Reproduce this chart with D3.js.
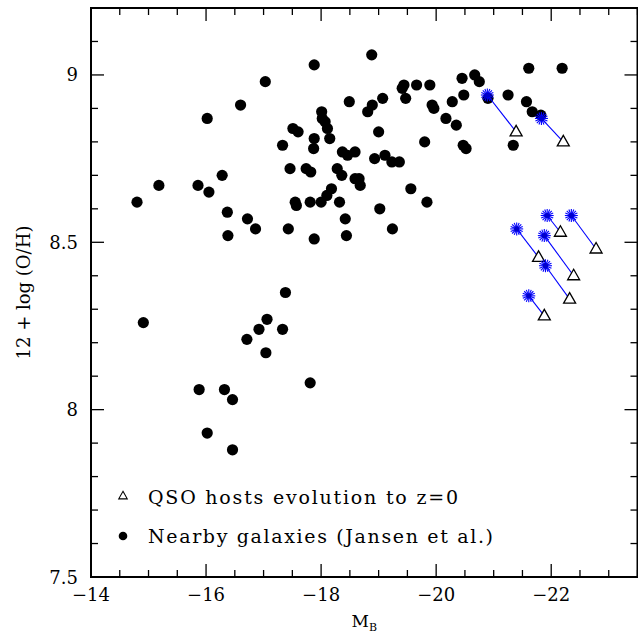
<!DOCTYPE html>
<html>
<head>
<meta charset="utf-8">
<script src="https://cdn.jsdelivr.net/npm/d3@7"></script>
<style>
  html, body { margin: 0; padding: 0; background: #fff; }
  svg { display: block; }
  text { font-family: "DejaVu Serif", "Liberation Serif", serif; fill: #000; }
</style>
</head>
<body>
<svg id="chart" width="638" height="633"></svg>
<script>
// ---- Data ----
// Nearby galaxies (Jansen et al.): absolute B magnitude and 12 + log(O/H)
const galaxyMB = [
  -17.03, -16.60, -16.02, -17.33, -16.28, -15.18, -15.86, -16.05, -14.80, -16.37,
  -16.72, -16.86, -16.38, -18.88, -17.88, -19.44, -19.41, -19.66, -19.89, -19.47,
  -19.07, -18.49, -18.89, -18.81, -19.93, -19.96, -18.01, -18.02, -18.07, -18.11,
  -17.51, -17.60, -19.00, -17.88, -18.15, -19.80, -17.87, -18.37, -18.46, -18.59,
  -18.93, -19.11, -19.23, -19.36, -17.46, -17.74, -17.82, -18.28, -18.36, -18.59,
  -18.66, -18.68, -18.18, -18.10, -19.56, -17.55, -17.57, -17.81, -18.00, -18.32,
  -19.84, -19.02, -18.42, -17.43, -19.24, -17.88, -18.44, -21.61, -22.19, -20.67,
  -20.75, -20.45, -20.48, -20.28, -21.25, -21.57, -21.67, -21.82, -20.90, -20.17,
  -20.35, -20.47, -20.52, -21.34, -17.38, -14.91, -17.06, -16.92, -17.33, -16.71,
  -17.04, -17.81, -15.88, -16.32, -16.46, -16.02, -16.46
];
const galaxyOH = [
  8.98, 8.91, 8.87, 8.79, 8.70, 8.67, 8.67, 8.65, 8.62, 8.59,
  8.57, 8.54, 8.52, 9.06, 9.03, 8.97, 8.96, 8.97, 8.97, 8.93,
  8.93, 8.92, 8.91, 8.89, 8.91, 8.90, 8.89, 8.87, 8.86, 8.84,
  8.84, 8.83, 8.83, 8.81, 8.81, 8.80, 8.78, 8.77, 8.76, 8.77,
  8.75, 8.76, 8.74, 8.74, 8.72, 8.72, 8.71, 8.72, 8.70, 8.69,
  8.69, 8.67, 8.66, 8.64, 8.66, 8.62, 8.61, 8.62, 8.62, 8.62,
  8.62, 8.60, 8.57, 8.54, 8.54, 8.51, 8.52, 9.02, 9.02, 9.00,
  8.98, 8.99, 8.94, 8.92, 8.94, 8.92, 8.89, 8.88, 8.93, 8.87,
  8.85, 8.79, 8.78, 8.79, 8.35, 8.26, 8.27, 8.24, 8.24, 8.21,
  8.17, 8.08, 8.06, 8.06, 8.03, 7.93, 7.88
];
// QSO hosts: observed (blue stars) and evolved to z=0 (open triangles)
const qsoObsMB = [-20.89, -21.83, -21.40, -21.93, -22.35, -21.88, -21.90, -21.61];
const qsoObsOH = [8.94, 8.87, 8.54, 8.58, 8.58, 8.52, 8.43, 8.34];
const qsoZ0MB  = [-21.39, -22.21, -21.78, -22.16, -22.78, -22.39, -22.32, -21.88];
const qsoZ0OH  = [8.83, 8.80, 8.455, 8.53, 8.48, 8.40, 8.33, 8.28];

// Axes / ticks
const xMajorTicks = [-14, -16, -18, -20, -22];
const xTickLabels = ["\u221214", "\u221216", "\u221218", "\u221220", "\u221222"];
const yMajorTicks = [7.5, 8, 8.5, 9];
const yTickLabels = ["7.5", "8", "8.5", "9"];
const xDomain = [-14, -23.5];
const yDomain = [7.5, 9.2];
const legendLabels = ["QSO hosts evolution to z=0", "Nearby galaxies (Jansen et al.)"];

// ---- Layout ----
const L = 91, R = 637.5, T = 8, B = 577;
const svg = d3.select("#chart");
const x = d3.scaleLinear().domain(xDomain).range([L, R]);
const y = d3.scaleLinear().domain(yDomain).range([B, T]);

// minor tick values generated from axis range
const xMinor = d3.range(-14, -23.5 - 1e-9, -0.5).filter(v => Math.abs(v % 2) > 1e-9);
const yMinor = d3.range(7.5, 9.2 + 1e-9, 0.1).map(v => +v.toFixed(2)).filter(v => Math.abs((v * 2) - Math.round(v * 2)) > 1e-6);

const majLen = 13, minLen = 7;
const tickG = svg.append("g").attr("stroke", "#000").attr("stroke-width", 1.3);
// bottom & top
[[xMajorTicks, majLen], [xMinor, minLen]].forEach(([vals, len]) => {
  vals.forEach(v => {
    const px = x(v);
    tickG.append("line").attr("x1", px).attr("x2", px).attr("y1", B).attr("y2", B - len);
    tickG.append("line").attr("x1", px).attr("x2", px).attr("y1", T).attr("y2", T + len);
  });
});
// left & right
[[yMajorTicks, majLen], [yMinor, minLen]].forEach(([vals, len]) => {
  vals.forEach(v => {
    const py = y(v);
    tickG.append("line").attr("y1", py).attr("y2", py).attr("x1", L).attr("x2", L + len);
    tickG.append("line").attr("y1", py).attr("y2", py).attr("x1", R).attr("x2", R - len);
  });
});

// frame
svg.append("rect").attr("x", L).attr("y", T).attr("width", R - L).attr("height", B - T)
  .attr("fill", "none").attr("stroke", "#000").attr("stroke-width", 2);

// tick labels
xMajorTicks.forEach((v, i) => {
  svg.append("text").attr("x", x(v)).attr("y", 601).attr("text-anchor", "middle")
    .attr("font-size", 18).text(xTickLabels[i]);
});
yMajorTicks.forEach((v, i) => {
  svg.append("text").attr("x", 78).attr("y", y(v) + 6.5).attr("text-anchor", "end")
    .attr("font-size", 18).text(yTickLabels[i]);
});

// axis titles
const xt = svg.append("text").attr("x", (L + R) / 2).attr("y", 627).attr("text-anchor", "middle")
  .attr("font-size", 17);
xt.append("tspan").text("M");
xt.append("tspan").attr("font-size", 11).attr("dy", 4).text("B");
svg.append("text").attr("transform", `translate(30,${(T + B) / 2}) rotate(-90)`)
  .attr("text-anchor", "middle").attr("font-size", 18).text("12 + log (O/H)");

// ---- Marks ----
const plot = svg.append("g");
// nearby galaxies
plot.selectAll("circle.gal").data(galaxyMB.map((m, i) => [m, galaxyOH[i]]))
  .join("circle").attr("class", "gal")
  .attr("cx", d => x(d[0])).attr("cy", d => y(d[1])).attr("r", 5.6).attr("fill", "#000");

const qso = qsoObsMB.map((m, i) => ({ m0: m, o0: qsoObsOH[i], m1: qsoZ0MB[i], o1: qsoZ0OH[i] }));
// connecting lines
plot.selectAll("line.evo").data(qso).join("line").attr("class", "evo")
  .attr("x1", d => x(d.m0)).attr("y1", d => y(d.o0))
  .attr("x2", d => x(d.m1)).attr("y2", d => y(d.o1))
  .attr("stroke", "#0000ff").attr("stroke-width", 1.1);

function triPath(cx, cy, w, h) {
  return `M${cx},${cy - h * 0.62}L${cx + w / 2},${cy + h * 0.38}L${cx - w / 2},${cy + h * 0.38}Z`;
}
// triangles (z=0)
plot.selectAll("path.tri").data(qso).join("path").attr("class", "tri")
  .attr("d", d => triPath(x(d.m1), y(d.o1), 12, 10.5))
  .attr("fill", "#fff").attr("stroke", "#000").attr("stroke-width", 1.3);

// blue stars (observed)
const starG = plot.selectAll("g.star").data(qso).join("g").attr("class", "star")
  .attr("transform", d => `translate(${x(d.m0)},${y(d.o0)})`);
const angles = d3.range(0, 180, 22.5);
angles.forEach(a => {
  const r = 6.5, t = a * Math.PI / 180;
  starG.append("line").attr("x1", -r * Math.cos(t)).attr("y1", -r * Math.sin(t))
    .attr("x2", r * Math.cos(t)).attr("y2", r * Math.sin(t))
    .attr("stroke", "#0000ff").attr("stroke-width", 1.1);
});
starG.append("circle").attr("r", 2.6).attr("fill", "#0000cc");

// ---- Legend ----
const lg = svg.append("g");
lg.append("path").attr("d", triPath(123, 496, 8.5, 7.5)).attr("fill", "none")
  .attr("stroke", "#000").attr("stroke-width", 1.1);
lg.append("text").attr("x", 148).attr("y", 503.5).attr("font-size", 19)
  .attr("textLength", 310).attr("lengthAdjust", "spacing").text(legendLabels[0]);
lg.append("circle").attr("cx", 123).attr("cy", 536).attr("r", 4.3).attr("fill", "#000");
lg.append("text").attr("x", 148).attr("y", 543).attr("font-size", 19)
  .attr("textLength", 345).attr("lengthAdjust", "spacing").text(legendLabels[1]);
</script>
</body>
</html>
